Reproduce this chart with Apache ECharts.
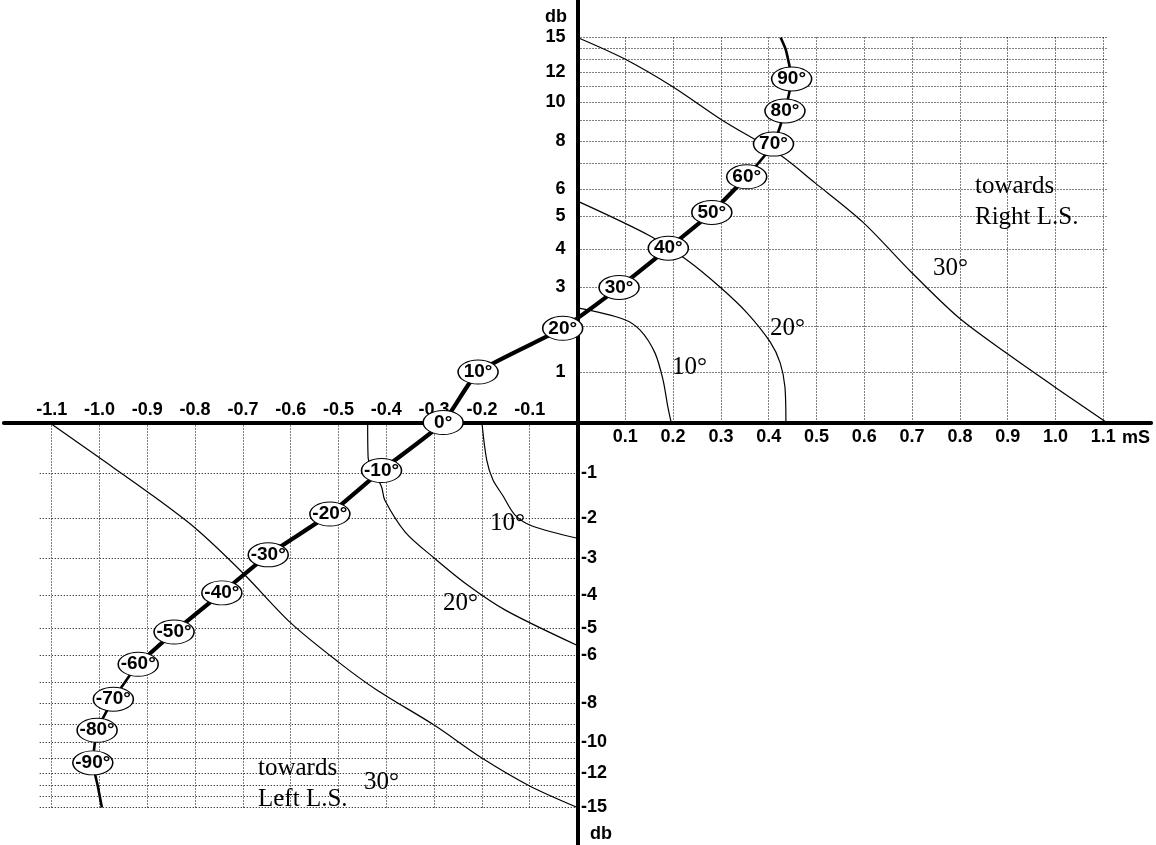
<!DOCTYPE html>
<html>
<head>
<meta charset="utf-8">
<script src="https://cdn.jsdelivr.net/npm/echarts@6/dist/echarts.min.js"></script>
<style>
  html, body { margin: 0; padding: 0; background: #fff; }
  #chart { width: 1156px; height: 845px; }
</style>
</head>
<body>
<div id="chart"></div>
<script>
// Time-difference ticks (mS) on the horizontal axis
const msTicksPos = [0.1, 0.2, 0.3, 0.4, 0.5, 0.6, 0.7, 0.8, 0.9, 1.0, 1.1];
const msTicksNeg = [-1.1, -1.0, -0.9, -0.8, -0.7, -0.6, -0.5, -0.4, -0.3, -0.2, -0.1];
// Level-difference ticks (dB) labelled on the vertical axis
const dbLabelsPos = [1, 2, 3, 4, 5, 6, 8, 10, 12, 15];
const dbLabelsNeg = [-1, -2, -3, -4, -5, -6, -8, -10, -12, -15];
// every whole dB gets a dotted grid line
const dbGridSteps = [1, 2, 3, 4, 5, 6, 7, 8, 9, 10, 11, 12, 13, 14, 15];
// warped dB scale: where each whole dB (0..15) sits on the half axis, 15 dB = 1
const dbScale = [0, 0.1312, 0.2494, 0.3519, 0.4494, 0.5351, 0.6052, 0.6740,
                 0.7299, 0.7844, 0.8312, 0.8727, 0.9104, 0.9429, 0.9714, 1];

// Phantom-source localisation curve (time difference mS, level difference dB)
const stereoCurveMs = [0.425, 0.436, 0.448, 0.434, 0.410, 0.354, 0.281, 0.190, 0.087, -0.031, -0.208,
                       -0.281, -0.410, -0.518, -0.647, -0.744, -0.844, -0.919, -0.971, -1.005, -1.014, -1.004, -0.995];
const stereoCurveDb = [15, 13.86, 11.52, 9.53, 7.88, 6.48, 5.15, 4.04, 2.99, 1.96, 1.0,
                       0, -0.95, -1.9, -2.92, -3.93, -5.13, -6.33, -7.8, -9.32, -11.3, -12.96, -15];
// angle marks on that curve, from point index 2 (90°) to index 20 (-90°)
const angleMarks = [90, 80, 70, 60, 50, 40, 30, 20, 10, 0, -10, -20, -30, -40, -50, -60, -70, -80, -90];

// Equal-angle curves towards the right loudspeaker
const c10RightMs = [0, 0.095, 0.131, 0.162, 0.179, 0.189, 0.196];
const c10RightDb = [2.47, 2.19, 1.92, 1.42, 0.84, 0.31, 0];
const c20RightMs = [0, 0.152, 0.229, 0.298, 0.355, 0.403, 0.424, 0.434, 0.436];
const c20RightDb = [5.57, 4.41, 3.72, 3.0, 2.34, 1.66, 1.2, 0.7, 0];
const c30RightMs = [0, 0.099, 0.200, 0.302, 0.424, 0.497, 0.597, 0.698, 0.796, 0.898, 0.999, 1.107];
const c30RightDb = [15, 13.04, 10.97, 9.03, 7.37, 6.25, 4.83, 3.4, 2.24, 1.41, 0.70, 0];

// Equal-angle curves towards the left loudspeaker
const c10LeftMs = [-0.2, -0.19, -0.177, -0.156, -0.131, -0.095, 0];
const c10LeftDb = [0, -0.74, -1.15, -1.5, -1.92, -2.19, -2.5];
const c20LeftMs = [-0.439, -0.438, -0.41, -0.403, -0.36, -0.30, -0.23, -0.15, 0];
const c20LeftDb = [0, -0.7, -1.3, -1.6, -2.35, -3.0, -3.72, -4.45, -5.63];
const c30LeftMs = [-1.105, -1.0, -0.9, -0.8, -0.7, -0.6, -0.5, -0.42, -0.3, -0.2, -0.1, 0];
const c30LeftDb = [0, -0.7, -1.41, -2.24, -3.4, -4.83, -6.25, -7.37, -9.03, -10.97, -13.04, -15];

// map a dB value onto the warped vertical axis
function dbToAxis(d) {
  const s = d < 0 ? -1 : 1;
  const a = Math.min(Math.abs(d), 15);
  const i = Math.min(Math.floor(a), 14);
  const f = a - i;
  return s * (dbScale[i] + (dbScale[i + 1] - dbScale[i]) * f);
}
function dbLabel(v) {
  const all = dbLabelsPos.concat(dbLabelsNeg);
  for (const d of all) if (Math.abs(dbToAxis(d) - v) < 1e-6) return String(d);
  return '';
}
function pairs(ms, db) { return ms.map((m, i) => [m, dbToAxis(db[i])]); }

const boldFont = "'Liberation Sans', Arial, sans-serif";
const dotted = { color: '#000', width: 1.1, type: [1, 2], opacity: 1 };

// dotted grid for the two populated quadrants
const gridSegments = [];
msTicksPos.forEach(t => gridSegments.push({ coords: [[t, 0], [t, dbToAxis(15)]] }));
dbGridSteps.forEach(d => gridSegments.push({ coords: [[0, dbToAxis(d)], [1.107, dbToAxis(d)]] }));
msTicksNeg.forEach(t => gridSegments.push({ coords: [[t, 0], [t, dbToAxis(-15)]] }));
dbGridSteps.forEach(d => gridSegments.push({ coords: [[-1.125, dbToAxis(-d)], [0, dbToAxis(-d)]] }));

const stereoPts = pairs(stereoCurveMs, stereoCurveDb);
const markPts = angleMarks.map((a, i) => [stereoPts[i + 2][0], stereoPts[i + 2][1], a]);

// all marks live on the full-size plot (index 2); the two quadrant grids carry the axes
function onPlot(s) { return Object.assign({ xAxisIndex: 2, yAxisIndex: 2, silent: true, animation: false }, s); }
function thin(ms, db) {
  return onPlot({
    type: 'line', data: pairs(ms, db), symbol: 'none', smooth: 0.3, z: 3,
    lineStyle: { color: '#000', width: 1.2 }
  });
}

const labelFont = { color: '#000', fontFamily: boldFont, fontWeight: 'bold', fontSize: 18 };
const axisLineStyle = { show: true, onZero: false, lineStyle: { color: '#000', width: 4 } };
const plain = { type: 'value', axisTick: { show: false }, splitLine: { show: false } };

const chart = echarts.init(document.getElementById('chart'));
chart.setOption({
  backgroundColor: '#fff',
  animation: false,
  grid: [
    // upper-right quadrant: positive mS / positive dB
    { left: 577.5, width: 573.6, top: -1, height: 423.5, outerBoundsMode: 'none', containLabel: false },
    // lower-left quadrant: negative mS / negative dB
    { left: 3.9, width: 573.6, top: 422.5, height: 423.5, outerBoundsMode: 'none', containLabel: false },
    // whole plot
    { left: 3.9, width: 1147.2, top: -1, height: 847, outerBoundsMode: 'none', containLabel: false }
  ],
  xAxis: [
    Object.assign({}, plain, {
      gridIndex: 0, min: 0, max: 1.2, position: 'bottom', axisLine: axisLineStyle,
      axisLabel: Object.assign({ customValues: msTicksPos, margin: 6, formatter: v => v.toFixed(1) }, labelFont)
    }),
    Object.assign({}, plain, {
      gridIndex: 1, min: -1.2, max: 0, position: 'top', axisLine: axisLineStyle,
      axisLabel: Object.assign({ customValues: msTicksNeg, margin: 3, formatter: v => v.toFixed(1) }, labelFont)
    }),
    Object.assign({}, plain, { gridIndex: 2, min: -1.2, max: 1.2, show: false })
  ],
  yAxis: [
    Object.assign({}, plain, {
      gridIndex: 0, min: 0, max: 1.1, position: 'left', axisLine: axisLineStyle,
      axisLabel: Object.assign({ customValues: dbLabelsPos.map(dbToAxis), margin: 12, formatter: dbLabel }, labelFont)
    }),
    Object.assign({}, plain, {
      gridIndex: 1, min: -1.1, max: 0, position: 'right', axisLine: axisLineStyle,
      axisLabel: Object.assign({ customValues: dbLabelsNeg.map(dbToAxis), margin: 3.5, formatter: dbLabel }, labelFont)
    }),
    Object.assign({}, plain, { gridIndex: 2, min: -1.1, max: 1.1, show: false })
  ],
  graphic: [
    { type: 'text', x: 567, y: 17, z: 10, style: { text: 'db', font: "bold 18px 'Liberation Sans', Arial, sans-serif", fill: '#000', align: 'right', verticalAlign: 'middle', textAlign: 'right', textVerticalAlign: 'middle' } },
    { type: 'text', x: 590, y: 834, z: 10, style: { text: 'db', font: "bold 18px 'Liberation Sans', Arial, sans-serif", fill: '#000', align: 'left', verticalAlign: 'middle', textAlign: 'left', textVerticalAlign: 'middle' } },
    { type: 'text', x: 1122, y: 438.5, z: 10, style: { text: 'mS', font: "bold 18px 'Liberation Sans', Arial, sans-serif", fill: '#000', align: 'left', verticalAlign: 'middle', textAlign: 'left', textVerticalAlign: 'middle' } },
    ...[
      ['10°', 672, 367.6], ['20°', 770, 328], ['30°', 933, 268.3],
      ['towards', 975, 186.6], ['Right L.S.', 975, 217.6],
      ['10°', 490, 523.6], ['20°', 443, 603.6], ['30°', 364, 782.6],
      ['towards', 258, 768.6], ['Left L.S.', 258, 799.6]
    ].map(([t, x, y]) => ({
      type: 'text', x, y, z: 10,
      style: { text: t, font: "25px 'Liberation Serif', 'Times New Roman', serif", fill: '#000', align: 'left', verticalAlign: 'middle', textAlign: 'left', textVerticalAlign: 'middle' }
    }))
  ],
  series: [
    onPlot({ type: 'lines', coordinateSystem: 'cartesian2d', data: gridSegments, z: 1, lineStyle: dotted }),
    thin(c10RightMs, c10RightDb),
    thin(c20RightMs, c20RightDb),
    thin(c30RightMs, c30RightDb),
    thin(c10LeftMs, c10LeftDb),
    thin(c20LeftMs, c20LeftDb),
    thin(c30LeftMs, c30LeftDb),
    onPlot({ type: 'line', data: stereoPts, symbol: 'none', smooth: 0.15, z: 4,
             lineStyle: { color: '#000', width: 2.6 } }),
    onPlot({ type: 'line', data: stereoPts.slice(5, 18), symbol: 'none', smooth: 0.15, z: 4,
             lineStyle: { color: '#000', width: 4.2 } }),
    onPlot({
      type: 'scatter', data: markPts, symbol: 'circle', symbolSize: [40, 24], z: 6,
      itemStyle: { color: '#fff', borderColor: '#000', borderWidth: 1.2, opacity: 1 },
      label: Object.assign({ show: true, position: 'inside', fontSize: 19, formatter: p => p.data[2] + '°' },
                           { color: '#000', fontFamily: boldFont, fontWeight: 'bold' })
    })
  ]
});
</script>
</body>
</html>
